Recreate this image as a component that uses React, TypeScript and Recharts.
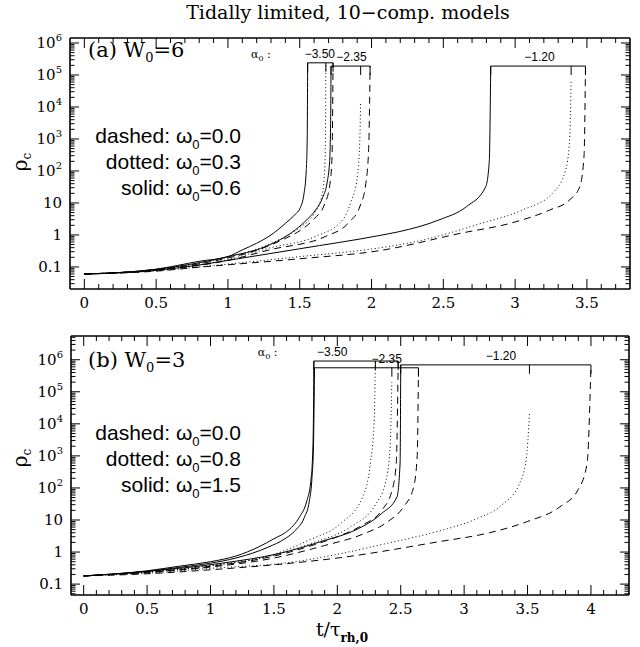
import React from 'react';
import { LineChart, Line, XAxis, YAxis, ReferenceLine, ReferenceDot } from 'recharts';

const SERIF = '"DejaVu Serif", serif';
const SANS = '"Liberation Sans", Arial, sans-serif';

// ---------- panel (a): W0 = 6, omega0 = 0.0 / 0.3 / 0.6 ----------
// alpha0 = -3.50
const tA350s = [0, 0.5, 0.8, 1.0, 1.1, 1.2, 1.3, 1.4, 1.47, 1.5, 1.53, 1.545, 1.552, 1.555];
const rA350s = [0.06, 0.085, 0.15, 0.21, 0.34, 0.55, 1.0, 2.3, 4.5, 6.5, 20, 100, 1000, 2.4e5];
const tA350d = [0, 0.5, 1.0, 1.2, 1.4, 1.5, 1.6, 1.65, 1.67, 1.678, 1.682];
const rA350d = [0.06, 0.083, 0.2, 0.36, 0.9, 1.7, 4.6, 14, 55, 500, 2.4e5];
const tA350k = [0, 0.5, 1.0, 1.2, 1.4, 1.5, 1.6, 1.67, 1.71, 1.725, 1.732];
const rA350k = [0.06, 0.082, 0.19, 0.33, 0.78, 1.35, 3.2, 8.5, 38, 300, 2.4e5];
// alpha0 = -2.35
const tA235s = [0, 0.5, 1.0, 1.26, 1.47, 1.55, 1.61, 1.66, 1.69, 1.708, 1.715, 1.718];
const rA235s = [0.06, 0.084, 0.21, 0.43, 1.45, 3, 6, 15, 42, 200, 3000, 1.9e5];
const tA235d = [0, 0.5, 1.0, 1.3, 1.61, 1.8, 1.86, 1.9, 1.918, 1.924];
const rA235d = [0.06, 0.08, 0.17, 0.4, 0.9, 3, 12, 60, 800, 1.5e4];
const tA235k = [0, 0.5, 1.0, 1.3, 1.68, 1.84, 1.92, 1.96, 1.98, 1.99];
const rA235k = [0.06, 0.079, 0.16, 0.35, 0.9, 2.4, 8, 40, 500, 1.9e5];
// alpha0 = -1.20
const tA120s = [0, 0.5, 0.8, 1.0, 1.5, 2.05, 2.19, 2.47, 2.66, 2.795, 2.82, 2.83];
const rA120s = [0.06, 0.078, 0.115, 0.16, 0.37, 0.95, 1.26, 2.95, 7.6, 32, 200, 1.9e5];
const tA120d = [0, 0.5, 0.8, 1.5, 2.05, 2.33, 2.75, 3.05, 3.26, 3.35, 3.38, 3.39];
const rA120d = [0.06, 0.075, 0.1, 0.21, 0.39, 0.65, 2.2, 6, 20, 100, 1000, 7e4];
const tA120k = [0, 0.5, 0.8, 1.5, 2.05, 2.63, 2.98, 3.24, 3.375, 3.45, 3.48, 3.49];
const rA120k = [0.06, 0.074, 0.098, 0.18, 0.32, 1.15, 2.4, 6, 12, 32, 300, 1.9e5];

// ---------- panel (b): W0 = 3, omega0 = 0.0 / 0.8 / 1.5 ----------
const tB350s = [0, 0.5, 0.75, 1.0, 1.2, 1.38, 1.5, 1.62, 1.7, 1.76, 1.79, 1.805, 1.812, 1.815];
const rB350s = [0.18, 0.26, 0.36, 0.5, 0.75, 1.45, 2.6, 5, 12, 40, 150, 1000, 2e4, 9.1e5];
const tB350d = [0, 0.5, 1.0, 1.5, 1.77, 2.03, 2.2, 2.26, 2.29, 2.3];
const rB350d = [0.18, 0.24, 0.38, 0.85, 2.3, 8, 52, 570, 1e4, 9.1e5];
const tB350k = [0, 0.5, 1.0, 1.5, 1.8, 2.0, 2.2, 2.35, 2.43, 2.465, 2.48];
const rB350k = [0.18, 0.235, 0.36, 0.75, 1.6, 3, 7, 20, 80, 600, 9.1e5];
const tB235s = [0, 0.5, 0.75, 1.0, 1.2, 1.46, 1.58, 1.67, 1.74, 1.78, 1.8, 1.812, 1.82];
const rB235s = [0.18, 0.25, 0.33, 0.45, 0.65, 1.45, 2.5, 4.8, 12, 40, 200, 2000, 5.6e5];
const tB235d = [0, 0.5, 1.0, 1.5, 1.8, 2.1, 2.3, 2.38, 2.415, 2.43];
const rB235d = [0.18, 0.24, 0.37, 0.8, 1.9, 6, 30, 150, 1500, 2e5];
const tB235k = [0, 0.5, 1.0, 1.5, 1.9, 2.2, 2.4, 2.52, 2.6, 2.63, 2.64];
const rB235k = [0.18, 0.23, 0.34, 0.65, 1.6, 3.6, 9, 25, 100, 1000, 5.6e5];
const tB120s = [0, 0.5, 1.09, 1.54, 1.9, 2.14, 2.35, 2.47, 2.495, 2.5];
const rB120s = [0.18, 0.25, 0.45, 0.9, 2.3, 4.8, 16, 52, 600, 6.9e5];
const tB120d = [0, 0.5, 1.0, 1.67, 2.0, 2.4, 2.8, 3.1, 3.3, 3.43, 3.49, 3.515];
const rB120d = [0.18, 0.22, 0.31, 0.5, 0.85, 1.9, 4.5, 11, 30, 120, 800, 2e4];
const tB120k = [0, 0.5, 1.0, 1.5, 2.0, 2.8, 3.2, 3.5, 3.75, 3.9, 3.97, 4.0];
const rB120k = [0.18, 0.21, 0.28, 0.4, 0.65, 2.1, 4, 9, 25, 90, 600, 6.9e5];

// bracket labels and levels
const alphaLabels = ['−3.50', '−2.35', '−1.20'];
const levelsA = [2.4e5, 1.9e5, 1.9e5];
const labelTA = [1.64, 1.86, 3.17];
const levelsB = [9.1e5, 5.6e5, 6.9e5];
const labelTB = [1.96, 2.39, 3.29];

const yDecades = [0.1, 1, 10, 100, 1e3, 1e4, 1e5, 1e6];

type Style = 'solid' | 'dotted' | 'dashed';
const dashOf: Record<Style, string | undefined> = { solid: undefined, dotted: '1 2.6', dashed: '7 5' };

const pts = (t: number[], r: number[]) => t.map((v, i) => ({ t: v, rho: r[i] }));
const last = (a: number[]) => a[a.length - 1];

const curvesA = [
  { s: 'solid', d: pts(tA350s, rA350s) }, { s: 'dotted', d: pts(tA350d, rA350d) }, { s: 'dashed', d: pts(tA350k, rA350k) },
  { s: 'solid', d: pts(tA235s, rA235s) }, { s: 'dotted', d: pts(tA235d, rA235d) }, { s: 'dashed', d: pts(tA235k, rA235k) },
  { s: 'solid', d: pts(tA120s, rA120s) }, { s: 'dotted', d: pts(tA120d, rA120d) }, { s: 'dashed', d: pts(tA120k, rA120k) },
];
const curvesB = [
  { s: 'solid', d: pts(tB350s, rB350s) }, { s: 'dotted', d: pts(tB350d, rB350d) }, { s: 'dashed', d: pts(tB350k, rB350k) },
  { s: 'solid', d: pts(tB235s, rB235s) }, { s: 'dotted', d: pts(tB235d, rB235d) }, { s: 'dashed', d: pts(tB235k, rB235k) },
  { s: 'solid', d: pts(tB120s, rB120s) }, { s: 'dotted', d: pts(tB120d, rB120d) }, { s: 'dashed', d: pts(tB120k, rB120k) },
];
const bracketsA = [
  [last(tA350s), last(tA350d), last(tA350k)],
  [last(tA235s), last(tA235d), last(tA235k)],
  [last(tA120s), last(tA120d), last(tA120k)],
].map((ends, i) => ({ ends, level: levelsA[i], label: alphaLabels[i], labelT: labelTA[i] }));
const bracketsB = [
  [last(tB350s), last(tB350d), last(tB350k)],
  [last(tB235s), last(tB235d), last(tB235k)],
  [last(tB120s), last(tB120d), last(tB120k)],
].map((ends, i) => ({ ends, level: levelsB[i], label: alphaLabels[i], labelT: labelTB[i] }));

const isDecade = (v: number) => Math.abs(Math.log10(v) - Math.round(Math.log10(v))) < 1e-6;
const isHalf = (v: number) => Math.abs(v * 2 - Math.round(v * 2)) < 1e-6;

function yTicks(lo: number, hi: number) {
  const out: number[] = [];
  [0.01, ...yDecades].forEach((d) => [1, 2, 3, 4, 5, 6, 7, 8, 9].forEach((k) => {
    const v = d * k;
    if (v >= lo && v <= hi) out.push(v);
  }));
  return out;
}
const xTicks = (n: number) => Array.from({ length: n }, (_, i) => i / 10);

function yLabel(v: number) {
  const e = Math.round(Math.log10(v));
  if (e === -1) return '0.1';
  if (e === 0) return '1';
  if (e === 1) return '10';
  return (<>10<tspan dy={-7} fontSize={10}>{e}</tspan></>);
}

const LeftTick = (p: any) => {
  const major = isDecade(p.payload.value);
  return (
    <g>
      <line x1={p.x} x2={p.x + (major ? 9 : 4.5)} y1={p.y} y2={p.y} stroke="#000" />
      {major && (
        <text x={p.x - 8} y={p.y + 5} textAnchor="end" fontFamily={SERIF} fontSize={15} fill="#000">
          {yLabel(p.payload.value)}
        </text>
      )}
    </g>
  );
};
const RightTick = (p: any) => {
  const major = isDecade(p.payload.value);
  return <line x1={p.x} x2={p.x - (major ? 9 : 4.5)} y1={p.y} y2={p.y} stroke="#000" />;
};
const BottomTick = (p: any) => {
  const v = Math.round(p.payload.value * 10) / 10;
  const major = isHalf(v);
  return (
    <g>
      <line x1={p.x} x2={p.x} y1={p.y} y2={p.y - (major ? 10 : 5)} stroke="#000" />
      {major && (
        <text x={p.x} y={p.y + 19} textAnchor="middle" fontFamily={SERIF} fontSize={15} fill="#000">
          {String(v)}
        </text>
      )}
    </g>
  );
};
const TopTick = (p: any) => {
  const major = isHalf(p.payload.value);
  return <line x1={p.x} x2={p.x} y1={p.y} y2={p.y + (major ? 10 : 5)} stroke="#000" />;
};

interface PanelProps {
  curves: { s: string; d: { t: number; rho: number }[] }[];
  brackets: { ends: number[]; level: number; label: string; labelT: number }[];
  xDomain: [number, number];
  yDomain: [number, number];
  nx: number;
  height: number;
  margin: { top: number; right: number; bottom: number; left: number };
  alphaT: number;
}

// axes get a 1px size so that recharts still draws them; margins are 1px smaller to compensate
function Panel({ curves, brackets, xDomain, yDomain, nx, height, margin, alphaT }: PanelProps) {
  const yt = yTicks(yDomain[0], yDomain[1]);
  const xt = xTicks(nx);
  const frame = { stroke: '#000', strokeWidth: 1.6 };
  return (
    <LineChart width={640} height={height} margin={margin}>
      <XAxis type="number" dataKey="t" domain={xDomain} allowDataOverflow ticks={xt} interval={0}
        height={1} tickSize={0} tickMargin={0} tickLine={false} axisLine={frame} tick={BottomTick} />
      <XAxis xAxisId="top" orientation="top" type="number" dataKey="t" domain={xDomain} allowDataOverflow
        ticks={xt} interval={0} height={1} tickSize={0} tickMargin={0} tickLine={false} axisLine={frame} tick={TopTick} />
      <YAxis scale="log" type="number" domain={yDomain} allowDataOverflow ticks={yt} interval={0}
        width={1} tickSize={0} tickMargin={0} tickLine={false} axisLine={frame} tick={LeftTick} />
      <YAxis yAxisId="right" orientation="right" scale="log" type="number" domain={yDomain} allowDataOverflow
        ticks={yt} interval={0} width={1} tickSize={0} tickMargin={0} tickLine={false} axisLine={frame} tick={RightTick} />
      {curves.map((c, i) => (
        <Line key={i} data={c.d} dataKey="rho" type="monotone" stroke="#000" strokeWidth={1}
          strokeDasharray={dashOf[c.s as Style]} dot={false} activeDot={false} isAnimationActive={false} />
      ))}
      {brackets.map((b, i) => {
        const lo = Math.min(...b.ends);
        const hi = Math.max(...b.ends);
        return (
          <React.Fragment key={`b${i}`}>
            <ReferenceLine segment={[{ x: lo, y: b.level }, { x: hi, y: b.level }]} stroke="#000" ifOverflow="visible" />
            {b.ends.map((e, j) => (
              <ReferenceLine key={j} segment={[{ x: e, y: b.level }, { x: e, y: b.level / 1.9 }]} stroke="#000" ifOverflow="visible" />
            ))}
            <ReferenceDot x={b.labelT} y={b.level} r={0} ifOverflow="visible"
              shape={(p: any) => (
                <text x={p.cx} y={p.cy - 5} textAnchor="middle" fontFamily={SANS} fontSize={12} fill="#000">{b.label}</text>
              )} />
          </React.Fragment>
        );
      })}
      <ReferenceDot x={alphaT} y={brackets[0].level} r={0} ifOverflow="visible"
        shape={(p: any) => (
          <text x={p.cx} y={p.cy - 5} textAnchor="middle" fontFamily={SERIF} fontSize={11} fill="#000">
            α<tspan dy={3} fontSize={8}>0</tspan><tspan dy={-3}> :</tspan>
          </text>
        )} />
    </LineChart>
  );
}

function Legend({ y, vals }: { y: number; vals: string[] }) {
  const names = ['dashed:', 'dotted:', 'solid:'];
  return (
    <>
      {names.map((n, i) => (
        <text key={n} x={241} y={y + i * 26} textAnchor="end" fontFamily={SANS} fontSize={21} fill="#000">
          {n} ω<tspan dy={6} fontSize={13}>0</tspan><tspan dy={-6}>={vals[i]}</tspan>
        </text>
      ))}
    </>
  );
}

export default function App() {
  return (
    <div style={{ position: 'absolute', left: 0, top: 0, width: 640, height: 647, background: '#fff' }}>
      <div style={{ position: 'absolute', left: 0, top: 0 }}>
        <Panel curves={curvesA} brackets={bracketsA} xDomain={[-0.1, 3.8]} yDomain={[10 ** -1.69, 10 ** 6.156]}
          nx={38} height={320} margin={{ top: 37, right: 9, bottom: 30, left: 69 }} alphaT={1.23} />
      </div>
      <div style={{ position: 'absolute', left: 0, top: 320 }}>
        <Panel curves={curvesB} brackets={bracketsB} xDomain={[-0.1, 4.3]} yDomain={[10 ** -1.34, 10 ** 6.74]}
          nx={43} height={327} margin={{ top: 15, right: 10, bottom: 51, left: 70 }} alphaT={1.45} />
      </div>
      <svg width={640} height={647} style={{ position: 'absolute', left: 0, top: 0, pointerEvents: 'none' }}>
        <text x={348} y={19} textAnchor="middle" fontFamily={SERIF} fontSize={19} fill="#000">
          Tidally limited, 10−comp. models
        </text>
        <text x={88} y={57} fontFamily={SERIF} fontSize={21} fill="#000">
          (a) W<tspan dy={5} fontSize={13}>0</tspan><tspan dy={-5}>=6</tspan>
        </text>
        <text x={88} y={367} fontFamily={SERIF} fontSize={21} fill="#000">
          (b) W<tspan dy={5} fontSize={13}>0</tspan><tspan dy={-5}>=3</tspan>
        </text>
        <Legend y={143} vals={['0.0', '0.3', '0.6']} />
        <Legend y={440} vals={['0.0', '0.8', '1.5']} />
        <text transform="translate(27,162) rotate(-90)" textAnchor="middle" fontFamily={SERIF} fontSize={20} fill="#000">
          ρ<tspan dy={4} fontSize={12}>c</tspan>
        </text>
        <text transform="translate(27,458) rotate(-90)" textAnchor="middle" fontFamily={SERIF} fontSize={20} fill="#000">
          ρ<tspan dy={4} fontSize={12}>c</tspan>
        </text>
        <text x={342} y={636} textAnchor="middle" fontFamily={SERIF} fontSize={19} fill="#000">
          t/τ<tspan dy={6} fontSize={12} fontWeight="bold">rh,0</tspan>
        </text>
      </svg>
    </div>
  );
}
